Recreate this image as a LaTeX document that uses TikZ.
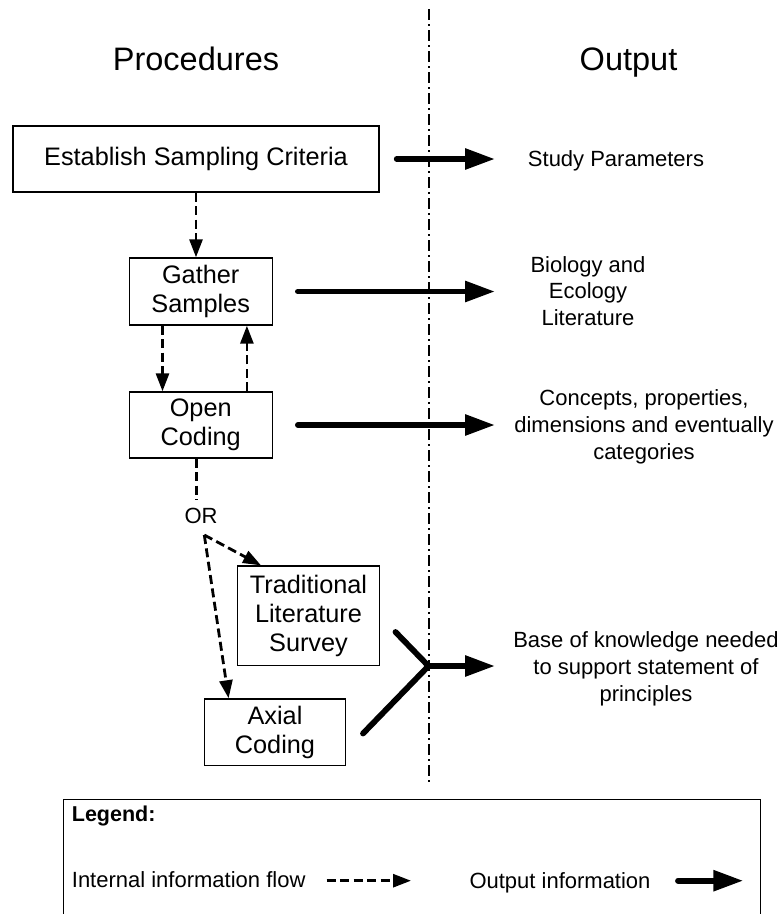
\documentclass[tikz,border=0pt]{standalone}
\usepackage{fontspec}
\setmainfont{Liberation Sans}
\usetikzlibrary{arrows.meta}

\tikzset{
  heading/.style={inner sep=0pt, font=\fontsize{32.5}{39}\selectfont},
  procbox/.style={draw, line width=1.4pt, inner sep=0pt, align=center,
    font=\fontsize{25.3}{29}\selectfont},
  outtext/.style={inner sep=0pt, align=center, font=\fontsize{22}{26.7}\selectfont},
  legtext/.style={inner sep=0pt, font=\fontsize{22}{26.7}\selectfont},
  flowline/.style={line width=2.8pt, dash pattern=on 9pt off 4.5pt},
  flow/.style={flowline, -{Triangle[length=18pt,width=13pt]}},
  outarm/.style={line width=5.8pt, line cap=round, line join=round},
  outflow/.style={outarm, -{Triangle[length=30pt,width=20pt]}},
  divider/.style={line width=1.8pt, dash pattern=on 11pt off 4pt on 2pt off 4pt},
}

\begin{document}
\begin{tikzpicture}[x=1pt, y=-1pt]
  \useasboundingbox (0,0) rectangle (783,914);

  % column divider
  \coordinate (divtop) at (429,9);
  \coordinate (divbot) at (429,783);
  \draw[divider] (divtop) -- (divbot);

  % column headings
  \node[heading, anchor=base] (hproc) at (196,70) {Procedures};
  \node[heading, anchor=base] (hout) at (628.5,70) {Output};

  % procedure boxes
  \node[procbox, minimum width=366pt, minimum height=66pt] (crit) at (196,159)
    {Establish Sampling Criteria};
  \node[procbox, minimum width=143pt, minimum height=67pt] (gather) at (200.7,291.5)
    {Gather\\Samples};
  \node[procbox, minimum width=143pt, minimum height=66pt] (open) at (200.7,425)
    {Open\\Coding};
  \node[procbox, minimum width=141.6pt, minimum height=99.7pt] (trad) at (308.5,615.9)
    {Traditional\\Literature\\Survey};
  \node[procbox, minimum width=141.4pt, minimum height=66.5pt] (axial) at (275,732.2)
    {Axial\\Coding};

  % OR branch point
  \node[legtext, anchor=base, inner ysep=7pt] (orlabel) at (201,523) {OR};
  \coordinate (orsplit) at (204.3,535);

  % output descriptions
  \node[legtext, anchor=base] (oparams) at (616,166.7) {Study Parameters};
  \node[outtext] (obio) at (588,291) {Biology and\\Ecology\\Literature};
  \node[outtext] (oconcepts) at (644,427)
    {Concepts, properties,\\dimensions and eventually\\categories};
  \node[outtext] (obase) at (646,669)
    {Base of knowledge needed\\to support statement of\\principles};

  % internal information flow
  \draw[flow] (crit.south) -- (crit.south |- gather.north);
  \draw[flow] ([xshift=34pt]gather.south west) -- ([xshift=34pt]open.north west);
  \draw[flow] ([xshift=-26pt]open.north east) -- ([xshift=-26pt]gather.south east);
  \draw[flowline] ([xshift=-4pt]open.south) -- ([xshift=-4pt]open.south |- orlabel.north);
  \draw[flow] (orsplit) -- ([xshift=24pt]trad.north west);
  \draw[flow] (orsplit) -- ([xshift=25pt]axial.north west);

  % output information
  \coordinate (outx) at (495,0);
  \draw[outflow] ([xshift=17pt]crit.east) -- (crit.east -| outx);
  \draw[outflow] ([xshift=25pt]gather.east) -- (gather.east -| outx);
  \draw[outflow] ([xshift=25pt]open.east) -- (open.east -| outx);

  \coordinate (yarmA) at (395.5,632);
  \coordinate (yarmB) at (363,733.5);
  \coordinate (yjoin) at (428.5,666);
  \draw[outarm] (yarmA) -- (yjoin);
  \draw[outarm] (yarmB) -- (yjoin);
  \draw[outflow] (yjoin) -- (yjoin -| outx);

  % legend
  \draw[line width=1.4pt] (63.3,914) |- (760.7,799.3) -- (760.7,914);
  \node[inner sep=0pt, anchor=base west, font=\fontsize{21.5}{25}\selectfont\bfseries]
    (leghead) at (71.7,821.7) {Legend:};
  \node[legtext, anchor=base west] (legint) at (71.7,887.3) {Internal information flow};
  \node[legtext, anchor=base west] (legout) at (469.3,888) {Output information};
  \coordinate (legflowA) at (326.7,880.7);
  \coordinate (legflowB) at (411,880.7);
  \coordinate (legoutA) at (678,880.7);
  \coordinate (legoutB) at (743.3,880.7);
  \draw[flow] (legflowA) -- (legflowB);
  \draw[outflow] (legoutA) -- (legoutB);
\end{tikzpicture}
\end{document}
